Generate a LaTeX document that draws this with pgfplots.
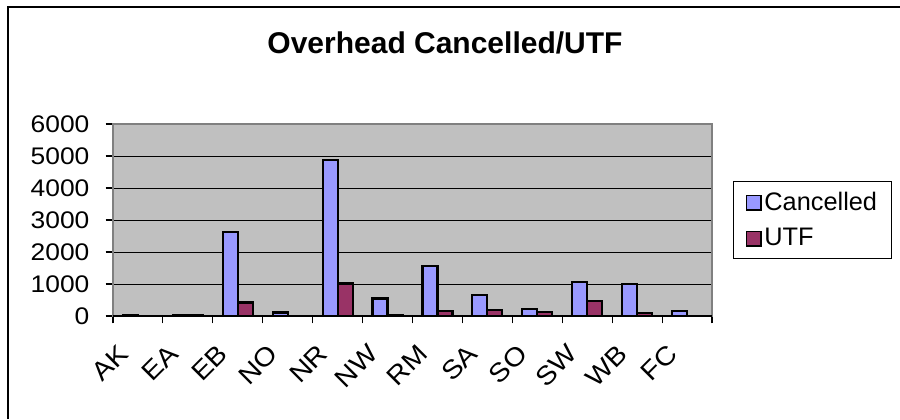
\documentclass[border=0pt]{standalone}
\usepackage{fontspec}
\setmainfont{Liberation Sans}
\newfontfamily\tickfont{Liberation Sans}[FakeStretch=1.1]
\usepackage{pgfplots}
\pgfplotsset{compat=1.18}
\definecolor{cblue}{HTML}{9999FF}
\definecolor{cred}{HTML}{993366}
\definecolor{plotgray}{HTML}{C0C0C0}
\definecolor{edgegray}{HTML}{808080}
\begin{document}
\begin{tikzpicture}[x=0.75pt,y=0.75pt]
\path[use as bounding box] (0,0) rectangle (900,419);
\draw[black, line width=1.5pt] (8,0) -- (8,412) -- (900,412);
\node[anchor=base, font=\fontsize{22.5}{26}\selectfont\bfseries] at (445,366) {Overhead Cancelled/UTF};
\begin{axis}[
  at={(84.75pt,77.25pt)}, anchor=south west,
  scale only axis, width=449.25pt, height=144pt,
  ybar=0pt, bar width=11.25pt,
  xmin=-0.5, xmax=11.5, ymin=0, ymax=6000,
  xtick={-0.5,0.5,...,11.5}, xticklabels={},
  extra x ticks={0,1,2,3,4,5,6,7,8,9,10,11},
  extra x tick labels={AK,EA,EB,NO,NR,NW,RM,SA,SO,SW,WB,FC},
  extra x tick style={major tick length=0pt,
    xticklabel style={font=\tickfont\fontsize{19.5}{21}\selectfont, inner sep=0pt, xshift=-15.75pt, yshift=-20pt, rotate=45, anchor=north east}},
  ytick={0,1000,...,6000},
  tick pos=left,
  tick align=outside, major tick length=5.5pt,
  tick style={black, line width=0.8pt},
  ymajorgrids, major grid style={black, line width=0.7pt},
  axis background/.style={fill=plotgray},
  axis line style={edgegray, line width=1.5pt},
  /pgf/number format/assume math mode=true,
  /pgf/number format/1000 sep={},
  yticklabel style={font=\tickfont\fontsize{18}{20}\selectfont, inner sep=0pt, xshift=-12pt},
  legend style={at={(1,0.5)}, anchor=west, xshift=15.75pt, draw=black, line width=0.75pt,
    fill=white, font=\fontsize{19}{22}\selectfont, inner xsep=9pt, inner ysep=6pt, row sep=8pt,
    cells={anchor=west}},
  legend image code/.code={\draw[#1, line width=1.2pt] (0pt,-6pt) rectangle (11pt,5pt);},
]
\addplot[fill=cblue, draw=black, line width=1.6pt] coordinates {(0,25) (1,25) (2,2630) (3,110) (4,4880) (5,545) (6,1565) (7,657) (8,229) (9,1064) (10,992) (11,146)};
\addplot[fill=cred, draw=black, line width=1.6pt] coordinates {(0,0) (1,15) (2,420) (3,0) (4,1014) (5,25) (6,146) (7,200) (8,115) (9,470) (10,106) (11,0)};
\legend{Cancelled,UTF}
\draw[black, line width=1pt] (rel axis cs:0,0) -- (rel axis cs:1,0);
\end{axis}
\end{tikzpicture}
\end{document}
